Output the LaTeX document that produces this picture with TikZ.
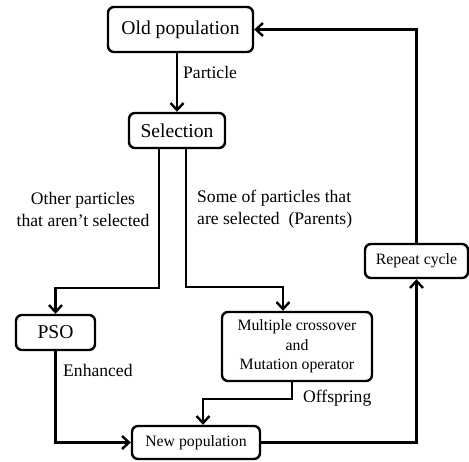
\documentclass[tikz,border=0pt]{standalone}
\usepackage{fontspec}
\setmainfont{Liberation Serif}
\usetikzlibrary{arrows.meta}

\begin{document}
\begin{tikzpicture}[x=1pt, y=-1pt, line width=2.4pt,
    box/.style={rectangle, rounded corners=6pt, draw, inner sep=0pt, align=center},
    big/.style={font=\fontsize{19.6}{22}\selectfont},
    small/.style={font=\fontsize{15.8}{19.5}\selectfont},
    lbl/.style={font=\fontsize{17.6}{22}\selectfont, inner sep=0pt},
    >={Straight Barb[length=7pt,width=13pt]}]
    \useasboundingbox (0,0) rectangle (469,461);

    \node (old) [box, big, minimum width=145pt, minimum height=45pt] at (180.5,29.5) {Old population};
    \node (sel) [box, big, minimum width=96pt, minimum height=35pt] at (177,130.5) {Selection};
    \node (pso) [box, big, minimum width=79pt, minimum height=35pt] at (55.5,332.5) {PSO};
    \node (multi) [box, small, minimum width=150pt, minimum height=69pt] at (297,346.5) {Multiple crossover\\and\\Mutation operator};
    \node (newpop) [box, small, minimum width=128pt, minimum height=33pt] at (196,442.5) {New population};
    \node (repeat) [box, small, minimum width=103pt, minimum height=34pt] at (416.5,261) {Repeat cycle};

    \draw [->] (sel |- old.south) -- (sel.north);
    \draw [->] ([xshift=-18pt]sel.south) -- ++(0,139) -| (pso.north);
    \draw [->] ([xshift=9pt]sel.south) -- ++(0,138) -| ([xshift=-14pt]multi.north);
    \draw [->] (pso.south) |- (newpop.west);
    \draw [->] ([xshift=-5pt]multi.south) -- ++(0,17) -| ([xshift=7pt]newpop.north);
    \draw [->] (newpop.east) -| (repeat.south);
    \draw [->] (repeat.north) |- (old.east);

    \node (particle) [lbl, anchor=west] at (182,72) {Particle};
    \node (others) [lbl, align=center] at (83,209) {Other particles\\that aren’t selected};
    \node (parents) [lbl, align=left, anchor=west] at (196,209) {Some of particles that\\are selected~ (Parents)};
    \node (enhanced) [lbl, anchor=west] at (62,370) {Enhanced};
    \node (offspring) [lbl, anchor=west] at (302,398) {Offspring};
\end{tikzpicture}
\end{document}
